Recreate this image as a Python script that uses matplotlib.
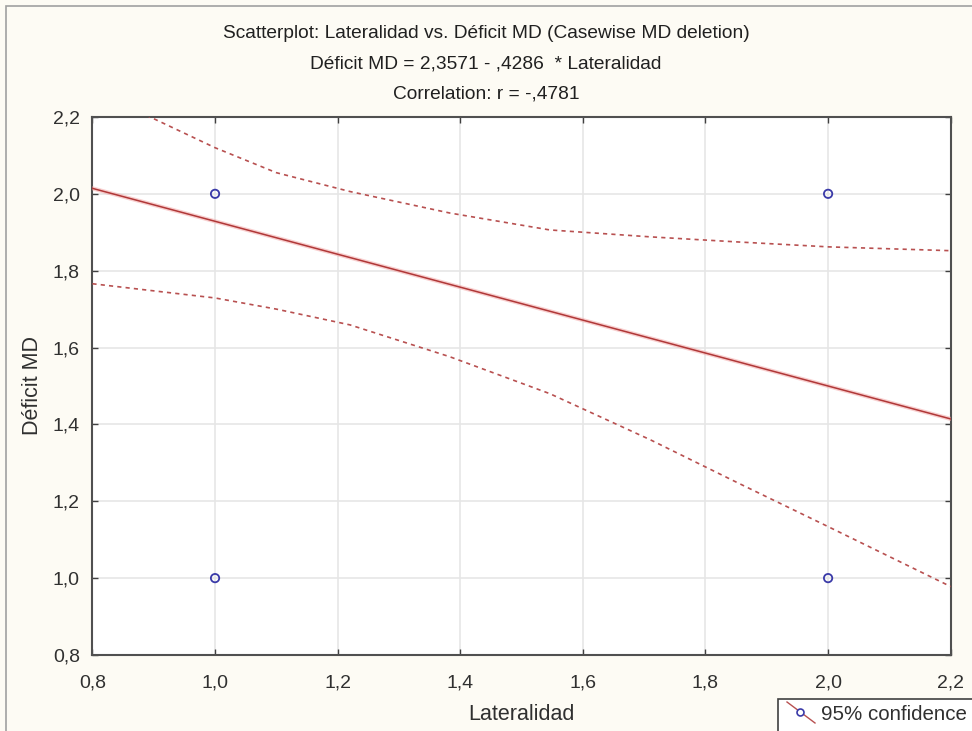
import numpy as np
from matplotlib import pyplot as plt
from matplotlib import ticker
from matplotlib.patches import Rectangle
from matplotlib.lines import Line2D

plt.rcParams['font.family'] = ['Liberation Sans', 'DejaVu Sans']

# observed cases (overlapping at the four corners)
lat = [1.0, 1.0, 2.0, 2.0]
deficit = [1.0, 2.0, 1.0, 2.0]

# regression from the title
intercept = 2.3571
slope = -0.4286

# 95% confidence band
band_x_up = [0.8, 0.894, 1.0, 1.1, 1.22, 1.383, 1.546, 1.71, 1.85, 2.0, 2.2]
band_up = [2.262, 2.2, 2.12, 2.055, 2.006, 1.95, 1.906, 1.888, 1.875, 1.862, 1.852]
band_x_lo = [0.8, 1.0, 1.1, 1.22, 1.383, 1.546, 1.71, 1.85, 2.0, 2.2]
band_lo = [1.766, 1.729, 1.700, 1.659, 1.576, 1.48, 1.36, 1.25, 1.134, 0.978]

xticks = [0.8, 1.0, 1.2, 1.4, 1.6, 1.8, 2.0, 2.2]
yticks = [0.8, 1.0, 1.2, 1.4, 1.6, 1.8, 2.0, 2.2]

fig = plt.figure(figsize=(9.72, 7.31), dpi=100)
fig.patch.set_facecolor('#fdfbf4')
ax = fig.add_axes([0.0951, 0.104, 0.883, 0.736])
ax.set_facecolor('white')

line_x = np.array([xticks[0], xticks[-1]])
ax.plot(line_x, intercept + slope * line_x, color='#f2a0a0', lw=3.0, alpha=0.5, zorder=3)
ax.plot(line_x, intercept + slope * line_x, color='#b03838', lw=1.1, zorder=4)
for bx, by in [(band_x_up, band_up), (band_x_lo, band_lo)]:
    ax.plot(bx, by, color='#b85050', lw=1.2, ls=(0, (2.5, 2.5)), zorder=4)

ax.scatter(lat, deficit, s=36, facecolors='none', edgecolors='#3a3aa8', linewidths=1.3, zorder=5)

ax.set_xlim(0.8, 2.2)
ax.set_ylim(0.8, 2.2)
ax.set_xticks(xticks)
ax.set_yticks(yticks)
fmt = ticker.FuncFormatter(lambda v, p: f"{v:.1f}".replace('.', ','))
ax.xaxis.set_major_formatter(fmt)
ax.yaxis.set_major_formatter(fmt)
ax.grid(True, color='#e6e6e6', lw=1.2)
ax.set_axisbelow(True)
ax.tick_params(direction='in', length=4, width=1, colors='#404040', labelsize=14,
               top=True, right=True)
ax.tick_params(axis='x', pad=14)
ax.tick_params(axis='y', pad=9)
for t in ax.get_xticklabels() + ax.get_yticklabels():
    t.set_color('#303030')
for s in ax.spines.values():
    s.set_color('#505050')
    s.set_linewidth(1.5)

ax.set_xlabel('Lateralidad', fontsize=15.5, color='#303030', labelpad=9)
ax.set_ylabel('Déficit MD', fontsize=15.5, color='#303030', labelpad=7)

title_lines = ['Scatterplot: Lateralidad vs. Déficit MD (Casewise MD deletion)',
               'Déficit MD = 2,3571 - ,4286  * Lateralidad',
               'Correlation: r = -,4781']
for yy, txt in zip([34, 64, 94], title_lines):
    fig.text(0.5, 1 - yy / 731, txt, ha='center', va='center', fontsize=13.8, color='#202020')

# outer frame
fig.patches.append(Rectangle((6 / 972, -0.01), 1.0, 1 - 6 / 731 + 0.01, transform=fig.transFigure,
                             fill=False, edgecolor='#a0a0a0', lw=1.2))

# legend box, cut by the image edge
fig.patches.append(Rectangle((778 / 972, -0.01), 0.3, (731 - 699) / 731 + 0.01,
                             transform=fig.transFigure, facecolor='white',
                             edgecolor='#404040', lw=1.2))
fig.lines.append(Line2D([787 / 972, 815 / 972], [1 - 702 / 731, 1 - 723 / 731],
                        transform=fig.transFigure, color='#b85050', lw=1.0))
fig.lines.append(Line2D([800 / 972], [1 - 712 / 731], transform=fig.transFigure,
                        marker='o', ms=5, mfc='white', mec='#3a3aa8', mew=1.2))
fig.text(821 / 972, 1 - 715 / 731, '95% confidence', ha='left', va='center',
         fontsize=14.8, color='#303030')

plt.savefig('out.png', dpi=100, facecolor=fig.get_facecolor())
